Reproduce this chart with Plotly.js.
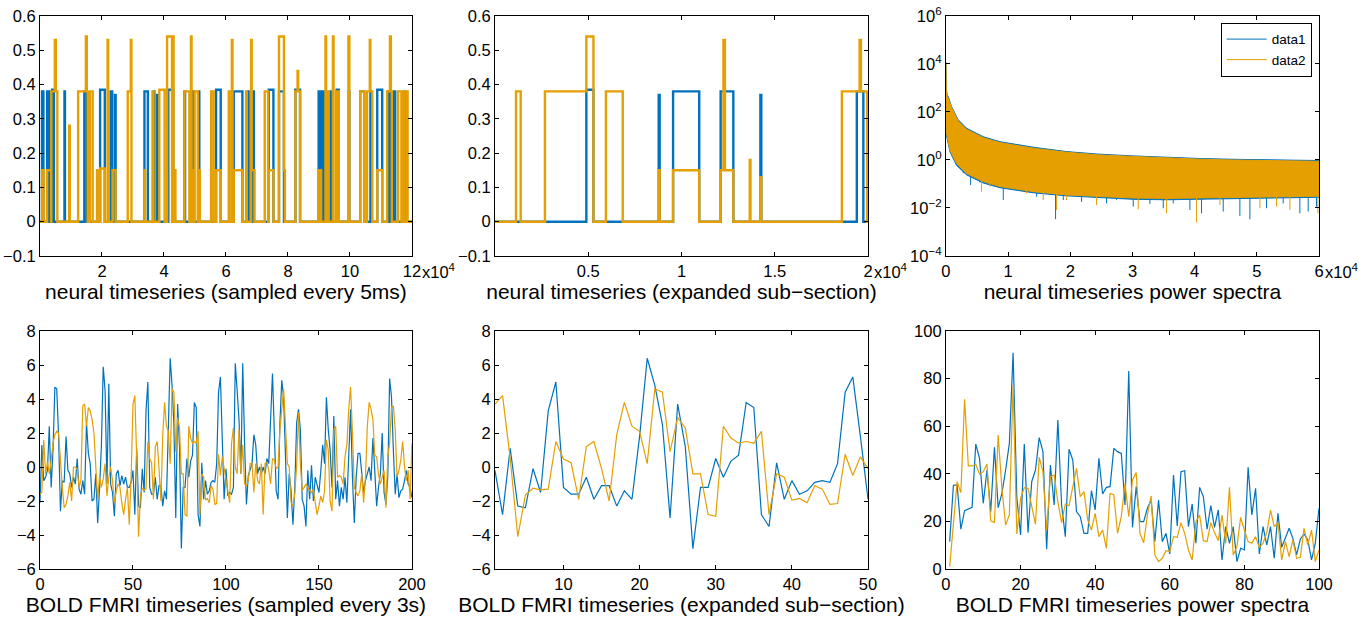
<!DOCTYPE html>
<html><head><meta charset="utf-8">
<script src="https://cdn.plot.ly/plotly-3.0.1.min.js"></script>
<style>html,body{margin:0;padding:0;background:#fff}#chart{width:1365px;height:617px}</style>
</head><body><div id="chart"></div>
<script>
// ---------- top-left: neural timeseries (pulses: start, end, level) ----------
const tlBlueStart = [650,2300,3150,3900,7900,14300,19400,22800,24200,33700,36700,37800,41400,46600,49300,51200,56800,62500,67000,68700,73800,77100,82400,89900,90700,91400,93700,95700,99600,103300,106600,108800,112400,114200,117400];
const tlBlueEnd   = [1100,2550,3400,4500,8050,15100,20900,23300,24400,34800,36900,38100,43000,46800,49500,51400,58300,65300,67300,69000,75300,78700,83900,90200,90900,91700,94200,96400,99800,104600,106800,110400,113000,114600,117600];
const tlBlueLevel = [0.38,0.38,0.38,0.385,0.38,0.38,0.385,0.38,0.37,0.38,0.38,0.37,0.385,0.38,0.38,0.38,0.385,0.38,0.38,0.38,0.385,0.38,0.385,0.38,0.38,0.38,0.38,0.385,0.38,0.38,0.38,0.385,0.38,0.38,0.38];
const tlOrangeStart = [650,2300,3650,4800,5100,9400,12300,14800,15100,16100,18400,19400,21800,23400,28300,29300,33700,36300,38500,41000,42900,43400,46600,48700,48900,49900,51400,55200,56800,60900,61900,62500,66500,68100,68300,72500,73800,77100,78700,82400,83100,83300,89900,92100,92800,94500,95700,99500,103300,105500,106400,106600,108800,112000,112900,113200,115500,117000,118300];
const tlOrangeEnd   = [1150,3600,4800,5100,5600,9600,14800,15100,15400,17000,18600,20900,22000,24400,29300,29500,33900,36600,40200,42600,43100,43700,48200,48900,49400,50900,51600,56000,58300,61100,62100,65300,66700,68300,69200,73600,75300,78700,79000,83100,83300,83900,90700,92300,93100,94700,96400,99800,104600,106400,106600,107200,110400,112900,113200,113500,116600,117400,118600];
const tlOrangeLevel = [0.15,0.15,0.38,0.53,0.38,0.28,0.38,0.54,0.38,0.38,0.15,0.155,0.53,0.15,0.38,0.53,0.15,0.38,0.385,0.54,0.54,0.15,0.38,0.54,0.15,0.38,0.15,0.38,0.15,0.38,0.53,0.15,0.38,0.53,0.15,0.38,0.15,0.54,0.15,0.38,0.44,0.38,0.15,0.54,0.38,0.54,0.38,0.54,0.38,0.38,0.53,0.38,0.15,0.38,0.54,0.38,0.38,0.38,0.38];
const tlXTicks = [20000,40000,60000,80000,100000,120000];
const tlXText  = ['2','4','6','8','10','12'];

// ---------- top-middle: expanded sub-section ----------
const tmBlueStart = [4900,8780,9550,12100,14230,19400];
const tmBlueEnd   = [5280,8830,10950,12780,14280,19750];
const tmBlueLevel = [0.385,0.37,0.38,0.38,0.37,0.38];
const tmOrangeStart = [1130,2680,4900,5950,8800,9550,12100,12250,12330,13660,14230,18600,19550,19620];
const tmOrangeEnd   = [1380,4900,5280,6850,8830,10950,12250,12330,12780,13700,14280,19550,19620,19950];
const tmOrangeLevel = [0.38,0.38,0.54,0.38,0.15,0.15,0.15,0.53,0.15,0.18,0.13,0.38,0.53,0.38];
const tmXTicks = [5000,10000,15000,20000];
const tmXText  = ['0.5','1','1.5','2'];

// ---------- top-right: neural power spectra (band envelopes + deep dips) ----------
const psdHiX = [0,60,200,375,910,1980,3320,6000,8680,11360,14040,19400,24760,30100,35500,40840,46200,51560,60000];
const psdBlueHi   = [12000,900,500,437,166,47,21,9.3,5.8,4.3,3.4,2.24,1.74,1.48,1.29,1.15,1.07,1.0,0.95];
const psdOrangeHi = [11000,800,450,380,150,42,19,8.5,5.3,4.0,3.1,2.1,1.62,1.4,1.2,1.08,1.0,0.93,0.88];
const psdLoX = [0,100,640,1700,3320,6000,8680,14040,19400,24760,30100,35500,46200,60000];
const psdBlueLo   = [25,10,2.2,0.6,0.24,0.11,0.07,0.043,0.032,0.027,0.023,0.022,0.024,0.028];
const psdOrangeLo = [28,12.6,2.6,0.72,0.275,0.126,0.078,0.048,0.035,0.03,0.026,0.025,0.027,0.031];
const dipBlueX = [2787,3966,5467,7879,9219,11095,12971,14579,16187,17634,18867,21815,23691,25835,27443,30123,32803,34947,36555,39235,41111,44595,47275,48883,51563,54243,56923,58263,59603];
const dipBlueY = [0.28,0.091,0.114,0.125,0.0215,0.066,0.056,0.0296,0.041,0.0034,0.0215,0.018,0.0296,0.0155,0.0215,0.0114,0.0148,0.0098,0.0155,0.0083,0.006,0.0071,0.0047,0.0034,0.0098,0.0155,0.006,0.0071,0.0114];
const dipOrangeX = [5735,7075,12971,15651,17795,19403,24227,30927,35483,40307,44059,50491,53171,55315,59818];
const dipOrangeY = [0.048,0.078,0.041,0.0215,0.0083,0.0215,0.0132,0.0087,0.006,0.0025,0.0132,0.0098,0.0114,0.0083,0.006];
const dipTop = 0.6;
const trXTicks = [0,10000,20000,30000,40000,50000,60000];
const trXText  = ['0','1','2','3','4','5','6'];
const trYTicks = [1e-4,1e-2,1,1e2,1e4,1e6];
const trYText  = ['10<sup>−4</sup>','10<sup>−2</sup>','10<sup>0</sup>','10<sup>2</sup>','10<sup>4</sup>','10<sup>6</sup>'];

// ---------- bottom-left: BOLD fMRI timeseries, samples 0..200 ----------
const boldBlue = [
 -2.1,1.3,-0.8,-0.6,-0.2,2.4,-1.2,1.0,4.7,4.6,
 1.8,-2.6,-0.8,-0.9,1.8,-0.2,-0.4,-1.2,-0.6,-1.0,
 0.5,-1.3,-1.6,-0.8,-1.6,2.6,0.8,0.2,-2.0,-1.9,
 -0.4,-3.3,-1.3,1.2,5.9,4.5,-1.0,4.9,-1.0,-1.5,
 -2.9,-0.4,-0.2,-1.1,-0.5,-1.0,-0.6,-1.2,-1.2,-0.9,
 -0.2,-2.8,1.1,-2.3,-2.4,-0.1,-1.5,3.3,5.0,-1.2,
 -1.6,-1.6,-0.6,-1.9,-1.1,-1.1,-2.3,-1.4,-1.9,1.8,
 6.4,4.8,2.5,-3.0,3.7,1.2,-4.8,-1.2,-1.2,0.5,
 -0.6,0.35,0.7,3.8,3.5,-2.8,-3.5,0.25,-1.9,-0.8,
 -1.6,-1.4,-0.9,-0.8,-0.9,0.2,4.4,5.3,1.8,-1.9,
 -0.1,-1.7,-1.5,-1.6,-1.2,6.1,4.5,2.8,-0.4,6.1,
 1.4,-2.2,-0.5,-0.2,0.2,1.9,1.3,-0.4,0,-0.4,
 0,-0.4,0.5,0.2,2.8,5.5,2.0,-1.4,-1.9,2.6,
 5.1,4.1,0.6,-3.0,-0.4,-1.4,-3.4,-1.2,2.6,3.4,
 2.2,-1.9,-2.3,-3.5,-0.2,-1.9,0.1,-2.0,-0.6,-1.0,
 -1.5,-0.2,1.3,0.2,4.1,2.2,1.0,-1.2,3.0,-1.9,
 -0.8,-2.3,-1.2,-1.9,-0.6,-2.1,0.6,3.4,-0.6,-3.3,
 -0.6,0.8,0.8,-0.6,-1.5,-0.8,-0.4,0,-0.8,1.7,
 -0.2,-2.3,-1.2,-0.4,2.0,-1.5,-2.2,-0.6,5.2,4.1,
 1.0,-1.6,-0.4,-1.8,-1.4,-1.3,-0.8,-0.2,-1.0,-1.2,
 -1.8];
const boldOrange = [
 -1.6,-1.5,1.6,-0.4,0.3,-0.4,0.4,1.4,1.9,2.1,
 2.0,0.2,-1.2,-2.4,-2.2,-1.7,-0.9,-2.0,0.0,0.0,
 -0.1,-1.2,-0.8,3.6,3.7,2.4,3.5,3.3,2.8,2.0,
 -0.1,-1.9,-0.6,-1.2,-0.7,0.2,-1.7,-0.6,0.0,-0.8,
 -2.1,-1.4,-1.0,-1.2,-2.1,-2.8,-1.9,-1.2,-3.4,-0.6,
 3.7,4.2,0.5,-4.1,-1.65,-1.25,-1.35,-1.3,1.5,0.47,
 0.25,-1.9,1.2,1.5,-0.1,-2.0,1.9,3.8,2.4,2.1,
 0.2,4.6,4.4,0.9,2.9,2.3,-0.4,-0.4,-2.8,-2.9,
 2.4,1.7,1.4,1.5,1.4,2.1,-2.8,-0.4,-0.6,-1.95,
 -1.85,-2.1,-1.1,-1.3,-2.2,-2.15,0.75,-0.5,0.6,-0.1,
 -0.6,-1.4,-2.1,1.4,2.3,0.0,-0.4,2.2,-0.4,1.3,
 -1.0,-1.1,-0.8,0.2,0.2,-1.5,0.2,-0.8,-1.0,0.2,
 -2.8,0.2,0.3,-0.2,-1.0,0.5,0.4,-0.1,0.0,2.2,
 3.2,4.6,2.4,0.2,0.0,-2.1,-2.3,-1.6,0.1,3.2,
 0.2,-1.4,-1.2,-1.0,-1.2,-1.4,-1.5,-1.3,-2.1,-2.8,
 -2.3,-1.7,-2.1,-1.4,1.6,1.0,-2.0,-2.6,2.2,2.4,
 -0.6,-0.5,-0.6,-1.0,0.6,1.3,3.4,4.7,2.0,-1.2,
 -1.5,-1.7,-1.4,-0.4,-2.1,-0.6,2.4,3.8,3.4,2.8,
 0.7,0.6,-0.4,-1.0,-0.6,-0.2,-2.4,0.6,1.4,3.5,
 3.6,2.2,-0.6,-0.2,0.4,1.5,0.0,-0.8,-0.2,-1.9,
 1.4];
const boldSubStart = 50;   // expanded sub-section = samples 50..99, shown as 1..50
const boldSubLen = 50;

// ---------- bottom-right: BOLD power spectra, bins 1..100 ----------
const specBlue = [11.5,35.2,35.3,16.7,24.5,25.1,25.9,52.5,46.5,27.6,
 41.6,24.1,51.1,25.8,31.8,41.6,52.8,90.9,30,14.3,
 52.5,15.3,36.7,41.6,55.2,49.3,8.3,43.7,26.9,62.6,
 26.9,13.6,50.3,45.8,24.1,22,15,15,32.9,24.8,
 46.5,31.5,34.3,34.6,50.7,49.3,48.6,26.9,83.2,17.5,
 34.6,19.9,19.9,25.5,29,11.5,29,11.5,15,6.3,
 39.5,18.1,40.9,41.3,17.8,27.3,10.8,34.3,30.4,16.7,
 26.6,17.5,24.8,3.8,17.8,10.8,17.8,3.1,8.7,8,
 42.7,22.7,33.9,6.3,17.8,10.1,17.8,4.5,23.4,9.1,
 13.3,17.1,12.9,5.9,12.6,14.7,12.2,3.8,10.8,25.5];
const specOrange = [1.0,18,36.7,32.1,71.3,43.3,43.3,44,39.9,40.9,
 44.1,20.2,19.6,56.3,33.9,18.5,22.7,77.3,14.7,29.7,
 34.2,33.9,25.5,18.8,46.9,40.9,16.4,38.8,39.5,28.3,
 19.5,27.3,26.6,34.3,42.3,30.4,32.5,20.6,16.4,23.4,
 13.6,16.4,8.7,31.8,31.1,15,22,36,22,37.4,
 40.5,15,11,22.7,30.7,5.9,3.1,4.5,7.7,7.3,
 13.6,13.3,19.5,15,8,3.8,19.9,22.7,11.9,11.5,
 19.5,15.3,11.9,22.7,10.8,34.3,5.9,9.4,21.7,16.4,
 11.5,10.8,13.6,9.1,10.8,15.3,24.8,17.8,19.5,3.8,
 11.5,5.2,12.2,4.5,4.9,17.1,10.1,16.4,3.1,8];

const titles = ['neural timeseries (sampled every 5ms)','neural timeseries (expanded sub−section)','neural timeseries power spectra',
                'BOLD FMRI timeseries (sampled every 3s)','BOLD FMRI timeseries (expanded sub−section)','BOLD FMRI timeseries power spectra'];

// ---------- build ----------
const BLUE = '#0072BD', ORANGE = '#E69F00';
function steps(st, en, lv, x0, x1){
  const xs=[x0], ys=[0];
  for(let i=0;i<st.length;i++){
    if(!(i>0 && en[i-1]===st[i])){ xs.push(st[i]); ys.push(0); }
    xs.push(st[i]); ys.push(lv[i]);
    xs.push(en[i]); ys.push(lv[i]);
    if(!(i<st.length-1 && st[i+1]===en[i])){ xs.push(en[i]); ys.push(0); }
  }
  xs.push(x1); ys.push(0);
  return {x:xs, y:ys};
}
function band(xh, hi, xl, lo){
  return {x: xh.concat(xl.slice().reverse()), y: hi.concat(lo.slice().reverse())};
}
function dips(xs, ys){
  const X=[], Y=[];
  xs.forEach((v,i)=>{ X.push(v,v,null); Y.push(dipTop, ys[i], null); });
  return {x:X, y:Y};
}
const idx = n => Array.from({length:n}, (_, i) => i);

const traces = [];
const tlB = steps(tlBlueStart, tlBlueEnd, tlBlueLevel, 0, 120000);
const tlO = steps(tlOrangeStart, tlOrangeEnd, tlOrangeLevel, 0, 120000);
traces.push({x:tlB.x, y:tlB.y, xaxis:'x', yaxis:'y', mode:'lines', line:{color:BLUE, width:2.4}, showlegend:false, hoverinfo:'skip'});
traces.push({x:tlO.x, y:tlO.y, xaxis:'x', yaxis:'y', mode:'lines', line:{color:ORANGE, width:2.4}, showlegend:false, hoverinfo:'skip'});
const tmB = steps(tmBlueStart, tmBlueEnd, tmBlueLevel, 0, 20000);
const tmO = steps(tmOrangeStart, tmOrangeEnd, tmOrangeLevel, 0, 20000);
traces.push({x:tmB.x, y:tmB.y, xaxis:'x2', yaxis:'y2', mode:'lines', line:{color:BLUE, width:2.4}, showlegend:false, hoverinfo:'skip'});
traces.push({x:tmO.x, y:tmO.y, xaxis:'x2', yaxis:'y2', mode:'lines', line:{color:ORANGE, width:2.4}, showlegend:false, hoverinfo:'skip'});

const bB = band(psdHiX, psdBlueHi, psdLoX, psdBlueLo);
const bO = band(psdHiX, psdOrangeHi, psdLoX, psdOrangeLo);
const dB = dips(dipBlueX, dipBlueY), dO = dips(dipOrangeX, dipOrangeY);
traces.push({x:bB.x, y:bB.y, xaxis:'x3', yaxis:'y3', mode:'lines', fill:'toself', fillcolor:BLUE, line:{color:BLUE, width:1}, showlegend:false, hoverinfo:'skip'});
traces.push({x:dB.x, y:dB.y, xaxis:'x3', yaxis:'y3', mode:'lines', line:{color:BLUE, width:1}, name:'data1', showlegend:true, hoverinfo:'skip'});
traces.push({x:bO.x, y:bO.y, xaxis:'x3', yaxis:'y3', mode:'lines', fill:'toself', fillcolor:ORANGE, line:{color:ORANGE, width:1}, showlegend:false, hoverinfo:'skip'});
traces.push({x:dO.x, y:dO.y, xaxis:'x3', yaxis:'y3', mode:'lines', line:{color:ORANGE, width:1}, name:'data2', showlegend:true, hoverinfo:'skip'});

const bx = idx(boldBlue.length);
traces.push({x:bx, y:boldBlue, xaxis:'x4', yaxis:'y4', mode:'lines', line:{color:BLUE, width:1.2}, showlegend:false});
traces.push({x:bx, y:boldOrange, xaxis:'x4', yaxis:'y4', mode:'lines', line:{color:ORANGE, width:1.2}, showlegend:false});
const sx = idx(boldSubLen).map(i => i + 1);
traces.push({x:sx, y:boldBlue.slice(boldSubStart, boldSubStart+boldSubLen), xaxis:'x5', yaxis:'y5', mode:'lines', line:{color:BLUE, width:1.2}, showlegend:false});
traces.push({x:sx, y:boldOrange.slice(boldSubStart, boldSubStart+boldSubLen), xaxis:'x5', yaxis:'y5', mode:'lines', line:{color:ORANGE, width:1.2}, showlegend:false});
const px = idx(specBlue.length).map(i => i + 1);
traces.push({x:px, y:specBlue, xaxis:'x6', yaxis:'y6', mode:'lines', line:{color:BLUE, width:1.2}, showlegend:false});
traces.push({x:px, y:specOrange, xaxis:'x6', yaxis:'y6', mode:'lines', line:{color:ORANGE, width:1.2}, showlegend:false});

const FONT = 'Liberation Sans, Arial, Helvetica, sans-serif';
const base = {showline:true, linecolor:'#000', linewidth:1, mirror:'ticks', ticks:'inside', ticklen:4, tickcolor:'#000',
  showgrid:false, zeroline:false, tickfont:{size:16.5, color:'#000', family:FONT}, fixedrange:true};
const colD = [[0.0293,0.3018],[0.3626,0.6359],[0.6930,0.9663]];
const rowD = [[0.5851,0.9741],[0.0778,0.4635]];
function xax(i, row, extra){
  return Object.assign({}, base, {domain:colD[i%3], anchor:'y'+(i===0?'':i+1),
    title:{text:titles[i], font:{size:21, color:'#000', family:FONT}, standoff:0}}, extra);
}
function yax(i, row, extra){
  return Object.assign({}, base, {domain:rowD[row], anchor:'x'+(i===0?'':i+1)}, extra);
}
const layout = {
  width:1365, height:617, margin:{l:0,r:0,t:0,b:0}, paper_bgcolor:'#fff', plot_bgcolor:'#fff',
  font:{family:FONT, color:'#000'},
  xaxis: xax(0,0,{range:[0,120000], tickvals:tlXTicks, ticktext:tlXText}),
  yaxis: yax(0,0,{range:[-0.1,0.6], dtick:0.1, tick0:0}),
  xaxis2: xax(1,0,{range:[0,20000], tickvals:tmXTicks, ticktext:tmXText}),
  yaxis2: yax(1,0,{range:[-0.1,0.6], dtick:0.1, tick0:0}),
  xaxis3: xax(2,0,{range:[0,60000], tickvals:trXTicks, ticktext:trXText}),
  yaxis3: yax(2,0,{type:'log', range:[-4,6], tickvals:trYTicks, ticktext:trYText}),
  xaxis4: xax(3,1,{range:[0,200], dtick:50, tick0:0}),
  yaxis4: yax(3,1,{range:[-6,8], dtick:2, tick0:0}),
  xaxis5: xax(4,1,{range:[1,50], tickvals:[10,20,30,40,50]}),
  yaxis5: yax(4,1,{range:[-6,8], dtick:2, tick0:0}),
  xaxis6: xax(5,1,{range:[0,100], dtick:20, tick0:0}),
  yaxis6: yax(5,1,{range:[0,100], dtick:20, tick0:0}),
  legend:{x:0.961, y:0.963, xanchor:'right', yanchor:'top', bordercolor:'#000', borderwidth:1, bgcolor:'#fff',
    font:{size:13.5, family:FONT, color:'#000'}, tracegroupgap:0, itemwidth:40},
  annotations:[
    {xref:'x domain', yref:'y domain', x:1, y:0, text:'x10<sup>4</sup>', showarrow:false, xanchor:'left', yanchor:'top', xshift:8, yshift:-3, font:{size:16.5, family:FONT, color:'#000'}},
    {xref:'x2 domain', yref:'y2 domain', x:1, y:0, text:'x10<sup>4</sup>', showarrow:false, xanchor:'left', yanchor:'top', xshift:4, yshift:-3, font:{size:16.5, family:FONT, color:'#000'}},
    {xref:'x3 domain', yref:'y3 domain', x:1, y:0, text:'x10<sup>4</sup>', showarrow:false, xanchor:'left', yanchor:'top', xshift:4, yshift:-3, font:{size:16.5, family:FONT, color:'#000'}}
  ]
};
Plotly.newPlot('chart', traces, layout, {staticPlot:true, displayModeBar:false});
</script></body></html>
